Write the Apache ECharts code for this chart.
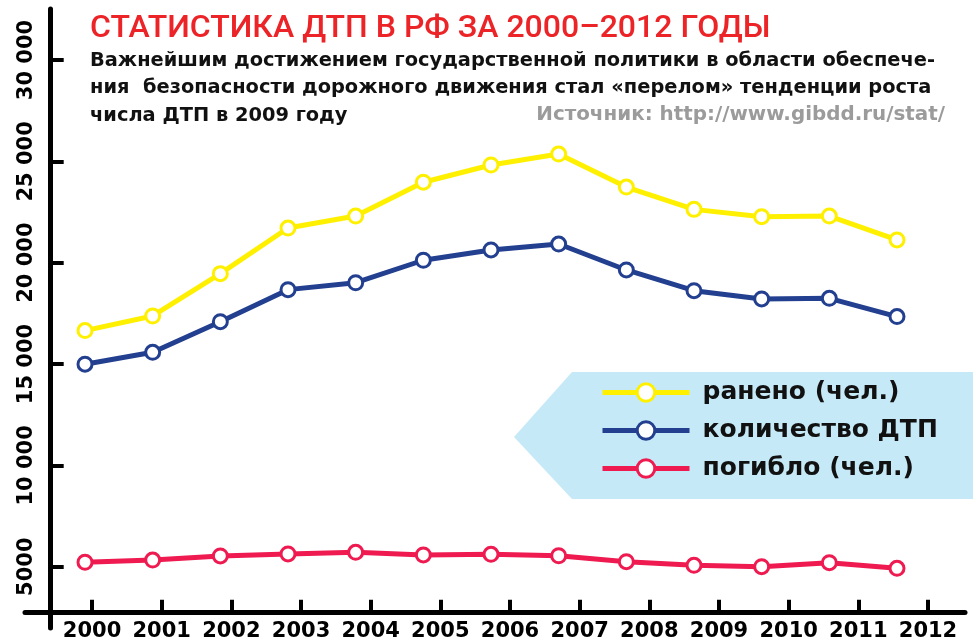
<!DOCTYPE html>
<html>
<head>
<meta charset="utf-8">
<script src="https://cdn.jsdelivr.net/npm/echarts@6/dist/echarts.min.js"></script>
<style>
  html, body { margin: 0; padding: 0; background: #fff; }
  #chart { width: 973px; height: 641px; }
</style>
</head>
<body>
<div id="chart"></div>
<script>
const years = ['2000', '2001', '2002', '2003', '2004', '2005', '2006', '2007', '2008', '2009', '2010', '2011', '2012']
const yearTicks = [2000, 2001, 2002, 2003, 2004, 2005, 2006, 2007, 2008, 2009, 2010, 2011, 2012]
const valueTicks = [5000, 10000, 15000, 20000, 25000, 30000]
const valueLabels = { 5000: '5000', 10000: '10 000', 15000: '15 000', 20000: '20 000', 25000: '25 000', 30000: '30 000' }

const injured = [16650, 17370, 19460, 21710, 22300, 23970, 24820, 25360, 23730, 22630, 22270, 22300, 21120]
const accidents = [14990, 15580, 17090, 18670, 19010, 20120, 20630, 20920, 19640, 18620, 18210, 18240, 17340]
const killed = [5220, 5330, 5530, 5630, 5710, 5580, 5610, 5540, 5250, 5070, 5000, 5200, 4920]

const yMin = 1976
const yMax = 32516

const chart = echarts.init(document.getElementById('chart'))

const lineSeries = (name, color, data) => ({
  name: name,
  type: 'line',
  xAxisIndex: 1,
  yAxisIndex: 1,
  data: data,
  symbol: 'circle',
  symbolSize: 14,
  lineStyle: { color: color, width: 5 },
  itemStyle: { color: '#fff', borderColor: color, borderWidth: 3 },
  emphasis: { disabled: true },
  z: 5
})

const option = {
  animation: false,
  backgroundColor: '#fff',
  grid: [
    // axes only
    { left: 25, right: 8, top: 9, bottom: 13, outerBoundsMode: 'none' },
    // data
    { left: 85, right: 76, top: 9, bottom: 13, outerBoundsMode: 'none' }
  ],
  xAxis: [
    {
      type: 'value',
      gridIndex: 0,
      min: 1999.038,
      max: 2012.531,
      offset: -15.3,
      axisLine: { lineStyle: { color: '#000', width: 5 } },
      axisTick: { inside: true, length: 13, lineStyle: { color: '#000', width: 4 }, customValues: yearTicks },
      axisLabel: {
        customValues: yearTicks,
        margin: 8,
        color: '#000',
        fontFamily: 'DejaVu Sans',
        fontWeight: 'bold',
        fontSize: 21,
        formatter: v => String(v)
      },
      splitLine: { show: false }
    },
    {
      type: 'category',
      gridIndex: 1,
      data: years,
      boundaryGap: false,
      show: false
    }
  ],
  yAxis: [
    {
      type: 'value',
      gridIndex: 0,
      min: yMin,
      max: yMax,
      offset: -25.7,
      axisLine: { show: true, lineStyle: { color: '#000', width: 5 } },
      axisTick: { show: true, inside: true, length: 13, lineStyle: { color: '#000', width: 4 }, customValues: valueTicks },
      axisLabel: {
        customValues: valueTicks,
        rotate: 90,
        margin: 14,
        color: '#000',
        fontFamily: 'DejaVu Sans',
        fontWeight: 'bold',
        fontSize: 21,
        formatter: v => valueLabels[v] || ''
      },
      splitLine: { show: false }
    },
    {
      type: 'value',
      gridIndex: 1,
      min: yMin,
      max: yMax,
      show: false
    }
  ],
  legend: {
    orient: 'vertical',
    left: 600,
    top: 380,
    padding: 0,
    itemWidth: 87,
    itemHeight: 22,
    itemGap: 13,
    selectedMode: false,
    lineStyle: { width: 5 },
    itemStyle: { borderWidth: 3 },
    textStyle: {
      color: '#111',
      fontFamily: 'DejaVu Sans',
      fontWeight: 'bold',
      fontSize: 25,
      padding: [0, 0, 0, 8]
    },
    data: ['ранено (чел.)', 'количество ДТП', 'погибло (чел.)']
  },
  graphic: [
    {
      type: 'polygon',
      z: -1,
      shape: { points: [[572, 372], [973, 372], [973, 499], [572, 499], [514, 437]] },
      style: { fill: '#c6e9f8' }
    },
    {
      type: 'text',
      left: 90,
      top: 13,
      style: {
        text: 'СТАТИСТИКА ДТП В РФ ЗА 2000–2012 ГОДЫ',
        fill: '#ec2427',
        font: '500 32px Roboto'
      }
    },
    {
      type: 'text',
      left: 90,
      top: 47,
      style: {
        text: 'Важнейшим достижением государственной политики в области обеспече-\nния  безопасности дорожного движения стал «перелом» тенденции роста\nчисла ДТП в 2009 году',
        fill: '#111',
        font: 'bold 19.4px "DejaVu Sans"',
        lineHeight: 27.5
      }
    },
    {
      type: 'text',
      right: 28,
      top: 105,
      style: {
        text: 'Источник: http://www.gibdd.ru/stat/',
        fill: '#9b9b9b',
        font: 'bold 19.9px "DejaVu Sans"'
      }
    }
  ],
  series: [
    lineSeries('ранено (чел.)', '#fff000', injured),
    lineSeries('количество ДТП', '#233f8f', accidents),
    lineSeries('погибло (чел.)', '#ee1a50', killed)
  ]
}

chart.setOption(option)
</script>
</body>
</html>
